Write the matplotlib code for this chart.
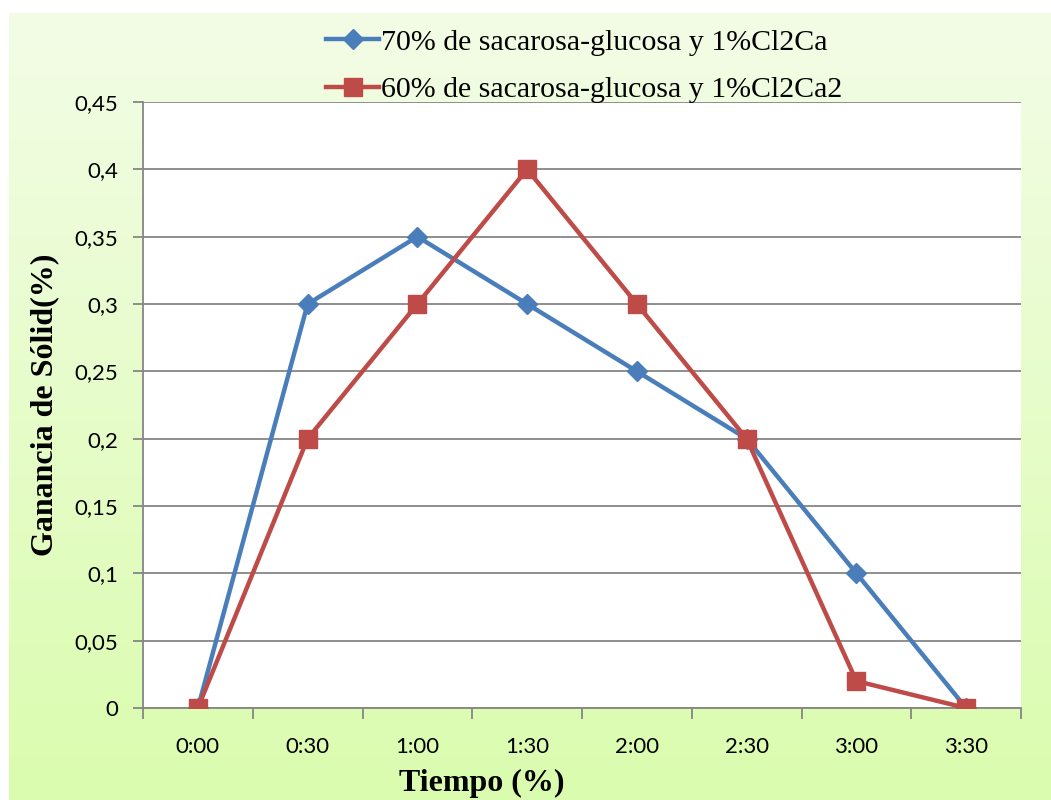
import matplotlib.pyplot as plt
import matplotlib.colors as mcolors
import numpy as np

# datos
tiempos = ['0:00', '0:30', '1:00', '1:30', '2:00', '2:30', '3:00', '3:30']
serie_70 = [0, 0.3, 0.35, 0.3, 0.25, 0.2, 0.1, 0]
serie_60 = [0, 0.2, 0.3, 0.4, 0.3, 0.2, 0.02, 0]
nombres = ['70% de sacarosa-glucosa y 1%Cl2Ca', '60% de sacarosa-glucosa y 1%Cl2Ca2']
y_ticks = [0, 0.05, 0.1, 0.15, 0.2, 0.25, 0.3, 0.35, 0.4, 0.45]

W, H = 1051, 800
fig = plt.figure(figsize=(W / 100, H / 100), dpi=100)

# fondo verde degradado
bg = fig.add_axes([9 / W, 0, 1 - 9 / W, 1 - 13 / H])
cmap = mcolors.LinearSegmentedColormap.from_list('verde', ['#dafcae', '#f3fde6'])
bg.imshow(np.linspace(0, 1, 256).reshape(-1, 1), aspect='auto', cmap=cmap,
          origin='lower', extent=[0, 1, 0, 1])
bg.axis('off')

ax = fig.add_axes([143 / W, 1 - 708 / H, (1021 - 143) / W, (708 - 102) / H])
ax.set_facecolor('white')
x = np.arange(len(tiempos))

l1, = ax.plot(x, serie_70, color='#4a7ebb', lw=3.2, marker='D', markersize=10.5,
              zorder=3, label=nombres[0])
l2, = ax.plot(x, serie_60, color='#be4b48', lw=3.2, marker='s', markersize=13.5,
              zorder=4, label=nombres[1])

ax.set_xlim(-0.5, len(tiempos) - 0.5)
ax.set_ylim(0, 0.45)
ax.set_yticks(y_ticks)
ax.set_yticklabels([('%g' % v).replace('.', ',') for v in y_ticks],
                   fontsize=16, family='Lato')
ax.set_xticks(x)
ax.set_xticklabels(tiempos, fontsize=16, family='Lato')
ax.set_xticks(np.arange(-0.5, len(tiempos)), minor=True)
ax.tick_params(axis='x', which='major', length=0, pad=21)
ax.tick_params(axis='x', which='minor', length=8, color='#868686', width=1.3)
ax.tick_params(axis='y', length=7, color='#868686', width=1.3, pad=11)
ax.grid(axis='y', color='#868686', lw=1.3)
ax.set_axisbelow(True)
for s in ['top', 'right']:
    ax.spines[s].set_visible(False)
for s in ['left', 'bottom']:
    ax.spines[s].set_color('#868686')
    ax.spines[s].set_linewidth(1.3)

fig.text(482 / W, 1 - 783 / H, 'Tiempo (%)', ha='center', va='center',
         fontsize=23, fontweight='bold', family='Liberation Serif')
fig.text(45 / W, 1 - 405 / H, 'Ganancia de Sólid(%)', ha='center', va='center',
         rotation=90, fontsize=23, fontweight='bold', family='Liberation Serif')

fig.legend(handles=[l1, l2], loc='upper left', bbox_to_anchor=(311 / W, 1 - 14 / H),
           frameon=False, prop={'family': 'Liberation Serif', 'size': 21.5},
           handlelength=1.78, handletextpad=0.07, labelspacing=0.68, borderpad=0)

plt.savefig('out.png', dpi=100, facecolor='white')
